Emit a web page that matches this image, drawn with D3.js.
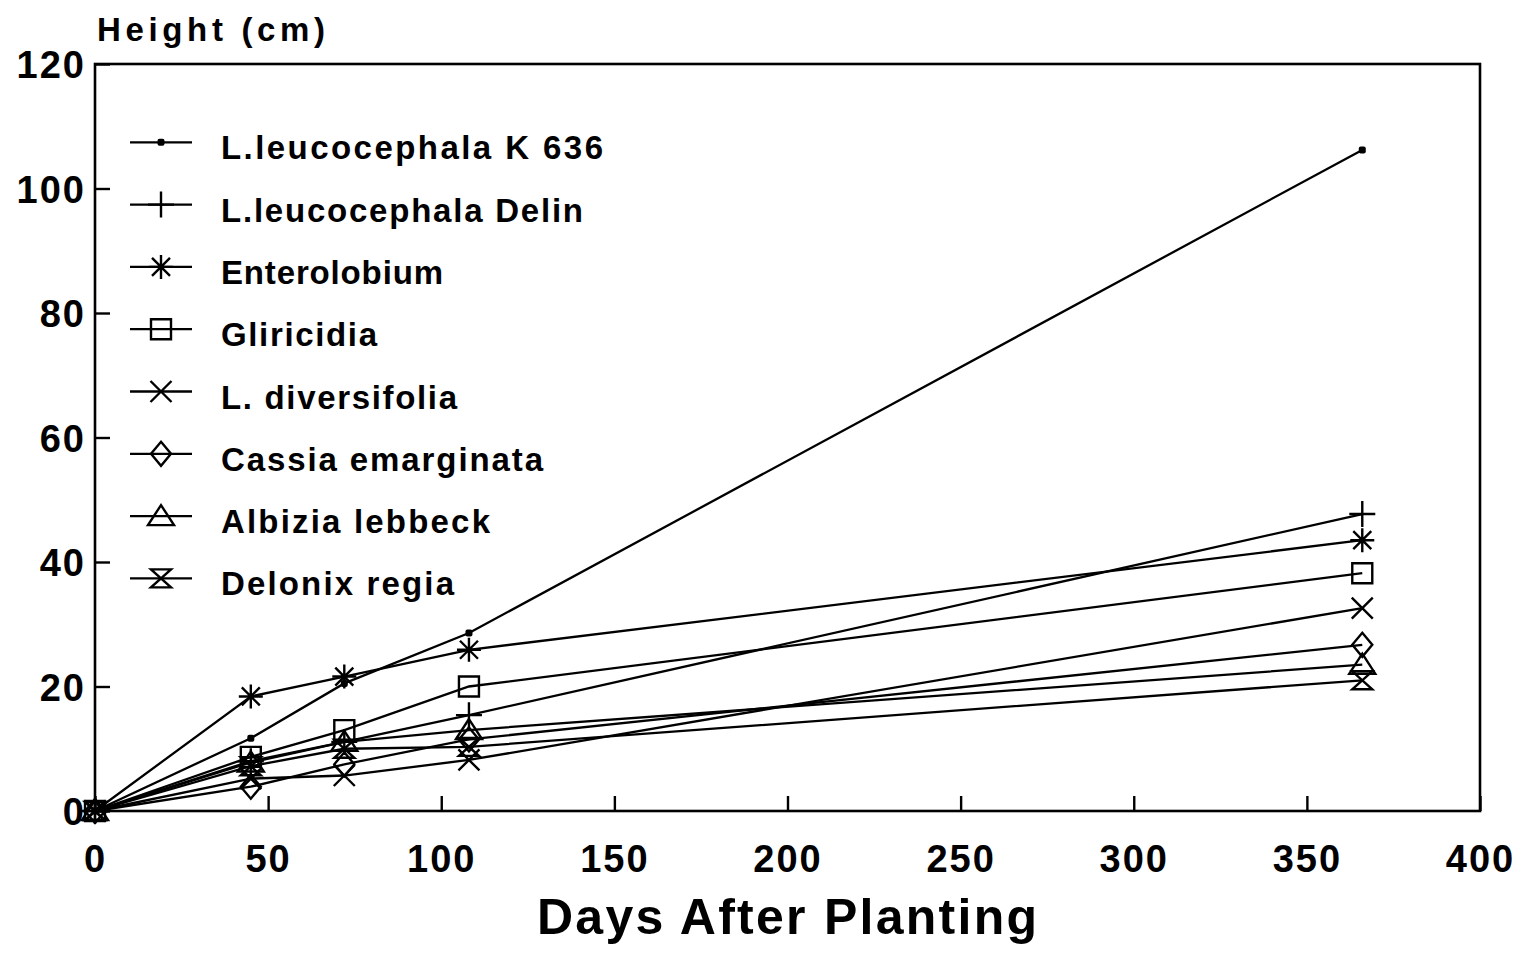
<!DOCTYPE html>
<html>
<head>
<meta charset="utf-8">
<script src="https://cdn.jsdelivr.net/npm/d3@7/dist/d3.min.js"></script>
<style>
  html, body { margin: 0; padding: 0; background: #fff; }
  svg { display: block; }
  text { font-family: "Liberation Sans", Arial, sans-serif; font-weight: bold; fill: #000; }
</style>
</head>
<body>
<svg id="chart" width="1526" height="953"></svg>
<script>
// Sampling days after planting
const days = [0, 45, 72, 108, 366];

// Mean height (cm) of each species at each sampling date
const leucK636     = [0, 11.7, 20.5, 28.6, 106.2];
const leucDelin    = [0, 8.0, 11.1, 15.4, 47.7];
const enterolobium = [0, 18.4, 21.6, 25.9, 43.5];
const gliricidia   = [0, 8.7, 13.0, 20.0, 38.2];
const diversifolia = [0, 5.2, 5.7, 8.2, 32.6];
const cassia       = [0, 3.9, 7.5, 11.5, 26.7];
const albizia      = [0, 7.8, 11.1, 13.0, 23.5];
const delonix      = [0, 7.2, 10.0, 10.3, 21.0];

const speciesNames = [
  "L.leucocephala K 636", "L.leucocephala Delin", "Enterolobium", "Gliricidia",
  "L. diversifolia", "Cassia emarginata", "Albizia lebbeck", "Delonix regia"
];
const speciesValues = [leucK636, leucDelin, enterolobium, gliricidia,
                       diversifolia, cassia, albizia, delonix];
const markerKinds = ["dot", "plus", "asterisk", "square", "cross", "diamond", "triangle", "hourglass"];

const xTicks = [0, 50, 100, 150, 200, 250, 300, 350, 400];
const yTicks = [0, 20, 40, 60, 80, 100, 120];

const svg = d3.select("#chart");
const plotLeft = 95, plotRight = 1480, plotTop = 64, plotBottom = 811;

const x = d3.scaleLinear().domain([0, 400]).range([plotLeft, plotRight]);
const y = d3.scaleLinear().domain([0, 120]).range([plotBottom, plotTop]);

// Outline path for each marker shape, centred on (0,0)
function markerPath(kind) {
  switch (kind) {
    case "plus": return "M-13,0H13M0,-13V13";
    case "asterisk": {
      const r = 12, d = 9;
      return `M0,${-r}V${r}M${-r},0H${r}M${-d},${-d}L${d},${d}M${-d},${d}L${d},${-d}`;
    }
    case "square": return "M-10,-10H10V10H-10Z";
    case "cross": return "M-10.5,-10.5L10.5,10.5M-10.5,10.5L10.5,-10.5";
    case "diamond": return "M0,-12L10,0L0,12L-10,0Z";
    case "triangle": return "M0,-11L13,9H-13Z";
    case "hourglass": return "M-10,-9H10L-10,9H10Z";
  }
  return "";
}

function drawMarker(g, kind, cx, cy) {
  if (kind === "dot") {
    g.append("rect").attr("x", cx - 3.5).attr("y", cy - 3.5)
      .attr("width", 7).attr("height", 7).attr("rx", 2)
      .attr("fill", "#000");
  } else {
    g.append("path").attr("d", markerPath(kind))
      .attr("transform", `translate(${cx},${cy})`)
      .attr("fill", "none").attr("stroke", "#000")
      .attr("stroke-width", 2.4).attr("stroke-linejoin", "miter");
  }
}

// Axes with inward ticks
const yAxis = d3.axisLeft(y).tickValues(yTicks).tickSize(-15).tickPadding(9).tickFormat(d3.format("d"));
const xAxis = d3.axisBottom(x).tickValues(xTicks).tickSize(-15).tickPadding(34).tickFormat(d3.format("d"));

const gy = svg.append("g").attr("transform", `translate(${plotLeft},0)`).call(yAxis);
const gx = svg.append("g").attr("transform", `translate(0,${plotBottom})`).call(xAxis);
[gy, gx].forEach(g => {
  g.select(".domain").remove();
  g.selectAll(".tick line").attr("stroke", "#000").attr("stroke-width", 2.4);
  g.selectAll(".tick text")
    .style("font-family", "'Liberation Sans', Arial, sans-serif")
    .style("font-weight", "bold")
    .style("font-size", "38px")
    .style("letter-spacing", "2px")
    .attr("fill", "#000");
});
gy.selectAll(".tick text").attr("dy", "0.36em");
gx.selectAll(".tick text").attr("dy", "0.71em");

// Plot frame
svg.append("rect")
  .attr("x", plotLeft).attr("y", plotTop)
  .attr("width", plotRight - plotLeft).attr("height", plotBottom - plotTop)
  .attr("fill", "none").attr("stroke", "#000").attr("stroke-width", 2.6);

// Series lines and markers
const line = d3.line().x((d, i) => x(days[i])).y(d => y(d));
const plot = svg.append("g");
speciesValues.forEach(vals => {
  plot.append("path").attr("d", line(vals))
    .attr("fill", "none").attr("stroke", "#000").attr("stroke-width", 2.3);
});
speciesValues.forEach((vals, s) => {
  const g = plot.append("g");
  vals.forEach((v, i) => drawMarker(g, markerKinds[s], x(days[i]), y(v)));
});

// Legend
const legendWidths = [382, 362, 222, 156, 236, 322, 269, 233];
const legend = svg.append("g");
speciesNames.forEach((name, i) => {
  const ly = 142.3 + i * 62.3;
  legend.append("line").attr("x1", 130).attr("x2", 192).attr("y1", ly).attr("y2", ly)
    .attr("stroke", "#000").attr("stroke-width", 2.3);
  drawMarker(legend, markerKinds[i], 161, ly);
  legend.append("text")
    .attr("x", 221).attr("y", ly + 17)
    .attr("textLength", legendWidths[i]).attr("lengthAdjust", "spacing")
    .style("font-size", "33px")
    .text(name);
});

// Axis titles
svg.append("text").attr("x", 97).attr("y", 41)
  .attr("textLength", 228).attr("lengthAdjust", "spacing")
  .style("font-size", "33px").text("Height (cm)");
svg.append("text").attr("x", 537).attr("y", 934)
  .attr("textLength", 500).attr("lengthAdjust", "spacing")
  .style("font-size", "50px").text("Days After Planting");
</script>
</body>
</html>
